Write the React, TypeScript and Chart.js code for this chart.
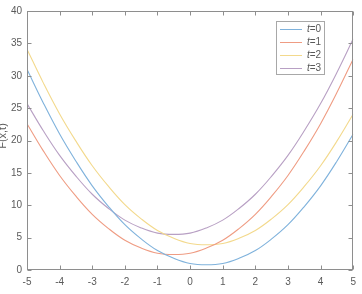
import React, { useEffect, useRef } from 'react';
import { Chart, registerables } from 'chart.js';

Chart.register(...registerables);

const xValues = [-5, -4.5, -4, -3.5, -3, -2.5, -2, -1.5, -1, -0.5, 0, 0.5, 1, 1.5, 2, 2.5, 3, 3.5, 4, 4.5, 5];
const seriesT0 = [31.0, 25.8, 21.0, 16.8, 13.0, 9.8, 7.0, 4.8, 3.0, 1.8, 1.0, 0.8, 1.0, 1.8, 3.0, 4.8, 7.0, 9.8, 13.0, 16.8, 21.0];
const seriesT1 = [22.6, 18.4, 14.6, 11.4, 8.6, 6.4, 4.6, 3.4, 2.6, 2.4, 2.6, 3.4, 4.6, 6.4, 8.6, 11.4, 14.6, 18.4, 22.6, 27.4, 32.6];
const seriesT2 = [34.1, 28.9, 24.1, 19.9, 16.1, 12.9, 10.1, 7.9, 6.1, 4.9, 4.1, 3.9, 4.1, 4.9, 6.1, 7.9, 10.1, 12.9, 16.1, 19.9, 24.1];
const seriesT3 = [25.7, 21.5, 17.7, 14.5, 11.7, 9.5, 7.7, 6.5, 5.7, 5.5, 5.7, 6.5, 7.7, 9.5, 11.7, 14.5, 17.7, 21.5, 25.7, 30.5, 35.7];
const seriesNames = ['0', '1', '2', '3'];
const seriesColors = ['#7fb2dc', '#ef9c83', '#f3d98c', '#b8a0c4'];
const xTickValues = [-5, -4, -3, -2, -1, 0, 1, 2, 3, 4, 5];
const yTickValues = [0, 5, 10, 15, 20, 25, 30, 35, 40];
const yTitle = 'F(x,t)';
const xTitle = 'x';

const AXIS_COLOR = '#8e8e8e';
const TEXT_COLOR = '#5a5a5a';
const FONT_FAMILY = '"Liberation Sans", Arial, Helvetica, sans-serif';

const matlabPlugin = {
  id: 'matlabAxes',
  afterDraw(chart: any) {
    const { ctx, chartArea, scales } = chart;
    const { left, right, top, bottom } = chartArea;
    const L = Math.round(left) + 0.5;
    const R = Math.round(right) - 0.5;
    const T = Math.round(top) + 0.5;
    const B = Math.round(bottom) - 0.5;
    ctx.save();
    ctx.strokeStyle = AXIS_COLOR;
    ctx.lineWidth = 1;
    ctx.strokeRect(L, T, R - L, B - T);
    const tl = 4;
    ctx.beginPath();
    xTickValues.forEach((v) => {
      const px = Math.round(scales.x.getPixelForValue(v)) + 0.5;
      ctx.moveTo(px, B);
      ctx.lineTo(px, B - tl);
      ctx.moveTo(px, T);
      ctx.lineTo(px, T + tl);
    });
    yTickValues.forEach((v) => {
      const py = Math.round(scales.y.getPixelForValue(v)) + 0.5;
      ctx.moveTo(L, py);
      ctx.lineTo(L + tl, py);
      ctx.moveTo(R, py);
      ctx.lineTo(R - tl, py);
    });
    ctx.stroke();

    // y title
    ctx.fillStyle = TEXT_COLOR;
    ctx.font = `11px ${FONT_FAMILY}`;
    ctx.textAlign = 'center';
    ctx.textBaseline = 'middle';
    ctx.save();
    ctx.translate(3, 136);
    ctx.rotate(-Math.PI / 2);
    ctx.fillText(yTitle, 0, 0);
    ctx.restore();

    // x title (mostly cut off by the page edge)
    ctx.font = `italic 11px ${FONT_FAMILY}`;
    ctx.textBaseline = 'top';
    ctx.fillText(xTitle, (left + right) / 2, 291);

    // legend
    const bx = 276.5, by = 21.5, bw = 48, bh = 53;
    ctx.fillStyle = '#ffffff';
    ctx.fillRect(bx, by, bw, bh);
    ctx.strokeStyle = '#a8a8a8';
    ctx.strokeRect(bx, by, bw, bh);
    const rowY = [29, 42, 55, 67.5];
    seriesNames.forEach((name, i) => {
      const y = Math.round(rowY[i]) + 0.5;
      ctx.strokeStyle = seriesColors[i];
      ctx.beginPath();
      ctx.moveTo(280, y);
      ctx.lineTo(302, y);
      ctx.stroke();
      ctx.fillStyle = TEXT_COLOR;
      ctx.textAlign = 'left';
      ctx.textBaseline = 'middle';
      ctx.font = `italic 10px ${FONT_FAMILY}`;
      ctx.fillText('t', 307, y);
      const w = ctx.measureText('t').width;
      ctx.font = `10px ${FONT_FAMILY}`;
      ctx.fillText('=' + name, 307 + w, y);
    });
    ctx.restore();
  },
};

export default function App() {
  const canvasRef = useRef<HTMLCanvasElement | null>(null);

  useEffect(() => {
    document.body.style.margin = '0';
    const canvas = canvasRef.current;
    if (!canvas) return;
    const allSeries = [seriesT0, seriesT1, seriesT2, seriesT3];
    const chart = new Chart(canvas, {
      type: 'line',
      data: {
        datasets: allSeries.map((s, i) => ({
          label: 't=' + seriesNames[i],
          data: xValues.map((x, j) => ({ x, y: s[j] })),
          borderColor: seriesColors[i],
          backgroundColor: seriesColors[i],
          borderWidth: 1.1,
          pointRadius: 0,
          fill: false,
          tension: 0.4,
        })),
      },
      options: {
        responsive: false,
        animation: false,
        devicePixelRatio: 1,
        layout: { padding: { top: 10, right: 6, left: 0, bottom: 0 } },
        plugins: {
          legend: { display: false },
          tooltip: { enabled: false },
        },
        scales: {
          x: {
            type: 'linear',
            min: -5,
            max: 5,
            afterBuildTicks: (scale: any) => {
              scale.ticks = xTickValues.map((v) => ({ value: v }));
            },
            afterFit: (scale: any) => {
              scale.height = 24;
            },
            grid: { display: false, drawTicks: false },
            border: { display: false },
            ticks: {
              padding: 6,
              color: TEXT_COLOR,
              font: { family: FONT_FAMILY, size: 10 },
              maxRotation: 0,
              autoSkip: false,
            },
          },
          y: {
            type: 'linear',
            min: 0,
            max: 40,
            afterBuildTicks: (scale: any) => {
              scale.ticks = yTickValues.map((v) => ({ value: v }));
            },
            afterFit: (scale: any) => {
              scale.width = 27;
            },
            grid: { display: false, drawTicks: false },
            border: { display: false },
            ticks: {
              padding: 5,
              color: TEXT_COLOR,
              font: { family: FONT_FAMILY, size: 10 },
              autoSkip: false,
            },
          },
        },
      },
      plugins: [matlabPlugin],
    });
    return () => chart.destroy();
  }, []);

  return (
    <div style={{ width: 362, height: 294, position: 'relative', background: '#ffffff' }}>
      <canvas ref={canvasRef} width={362} height={294} style={{ display: 'block', width: 362, height: 294 }} />
    </div>
  );
}
